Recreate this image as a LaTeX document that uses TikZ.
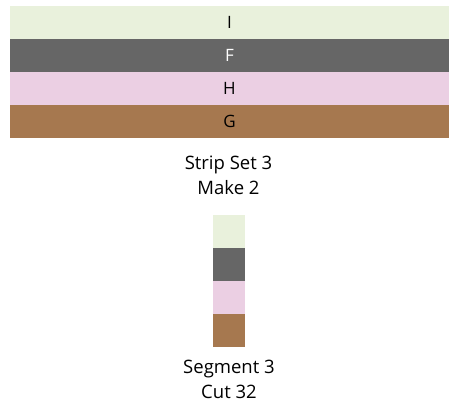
\documentclass[tikz,border=0pt]{standalone}
\usepackage{fontspec}
\setmainfont{Open Sans}
\usetikzlibrary{positioning}
\definecolor{fabI}{HTML}{E9F1DC}
\definecolor{fabF}{HTML}{666666}
\definecolor{fabH}{HTML}{EBCFE3}
\definecolor{fabG}{HTML}{A6784F}
\begin{document}
\begin{tikzpicture}[x=1pt,y=-1pt,
    strip/.style={minimum width=439pt,minimum height=33pt,inner sep=0pt,outer sep=0pt,font=\fontsize{17}{20}\selectfont},
    seg/.style={minimum width=32pt,minimum height=33pt,inner sep=0pt,outer sep=0pt},
    caption/.style={align=center,inner sep=0pt,font=\fontsize{18.5}{25}\selectfont}]
    \useasboundingbox (0,0) rectangle (455,404);
    % strip set
    \node[strip,fill=fabI] (stripI) at (229.5,22.5) {I};
    \node[strip,fill=fabF,text=white,below=0pt of stripI] (stripF) {F};
    \node[strip,fill=fabH,below=0pt of stripF] (stripH) {H};
    \node[strip,fill=fabG,below=0pt of stripH] (stripG) {G};
    \node[caption] (setlabel) at (228.5,175) {Strip Set 3\\Make 2};
    % segment
    \node[seg,fill=fabI] (segI) at (229,231.5) {};
    \node[seg,fill=fabF,below=0pt of segI] (segF) {};
    \node[seg,fill=fabH,below=0pt of segF] (segH) {};
    \node[seg,fill=fabG,below=0pt of segH] (segG) {};
    \node[caption] (seglabel) at (229,379) {Segment 3\\Cut 32};
\end{tikzpicture}
\end{document}
